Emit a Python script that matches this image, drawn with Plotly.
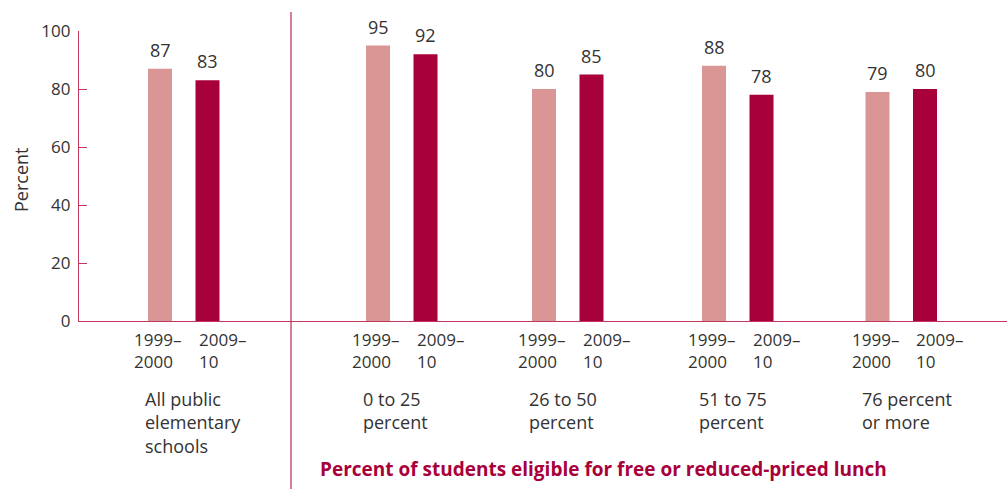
import plotly.graph_objects as go

# ---- data ----
groups = ["All public<br>elementary<br>schools", "0 to 25<br>percent", "26 to 50<br>percent",
          "51 to 75<br>percent", "76 percent<br>or more"]
series_names = ["1999–2000", "2009–10"]
series_ticklabels = ["1999–<br>2000", "2009–<br>10"]
values_1999 = [87, 95, 80, 88, 79]
values_2009 = [83, 92, 85, 78, 80]
y_ticks = [0, 20, 40, 60, 80, 100]
x_title = "Percent of students eligible for free or reduced-priced lunch"
y_title = "Percent"

# ---- layout constants ----
W, H = 1007, 489
ML, MR, MT, MB = 79, 0, 31, 168
PW, PH = W - ML - MR, H - MT - MB
group_centers = [104.5, 322.5, 488.5, 658.5, 822.0]   # x-axis units (pixels from axis)
bar_w = 24
offsets = [-35.5, 12.0]
light = "#D99694"
dark = "#A8003A"
axis_col = "#C2375E"
text_col = "#333333"
title_col = "#A8003A"
FONT = "Open Sans"


def py(pixel_y):
    return (H - MB - pixel_y) / PH


def pxx(pixel_x):
    return (pixel_x - ML) / PW


fig = go.Figure()
for vals, col, off, name in zip([values_1999, values_2009], [light, dark], offsets, series_names):
    fig.add_trace(go.Bar(
        x=group_centers, y=vals, name=name, marker_color=col, marker_line_width=0,
        width=bar_w, offset=off, showlegend=False, hoverinfo="y",
    ))

annotations = []
# value labels
for vals, off in zip([values_1999, values_2009], offsets):
    for gc, v in zip(group_centers, vals):
        annotations.append(dict(x=gc + off + bar_w / 2, y=v, xref="x", yref="y",
                                text=str(v), showarrow=False, yanchor="bottom", yshift=5,
                                font=dict(family=FONT, size=18, color=text_col)))
# series tick labels under each bar
label_shift = [-16, 1]
for off, lab, sh in zip(offsets, series_ticklabels, label_shift):
    for gc in group_centers:
        annotations.append(dict(x=gc + off, y=py(326), xref="x", yref="paper",
                                text=lab, showarrow=False, xanchor="left", yanchor="top",
                                align="left", xshift=sh,
                                font=dict(family=FONT, size=17, color=text_col)))
# group labels
for gc, g in zip(group_centers, groups):
    annotations.append(dict(x=gc - 41, y=py(385), xref="x", yref="paper",
                            text=g, showarrow=False, xanchor="left", yanchor="top",
                            align="left",
                            font=dict(family=FONT, size=18, color=text_col)))
# x title
annotations.append(dict(x=pxx(318), y=py(469), xref="paper", yref="paper",
                        text="<b>" + x_title + "</b>", showarrow=False,
                        xanchor="left", yanchor="middle",
                        font=dict(family=FONT, size=19, color=title_col)))
# y title
annotations.append(dict(x=pxx(21), y=py(180), xref="paper", yref="paper",
                        text=y_title, showarrow=False, textangle=-90,
                        xanchor="center", yanchor="middle",
                        font=dict(family=FONT, size=18, color=text_col)))

shapes = [dict(type="line", xref="paper", yref="paper",
               x0=pxx(291), x1=pxx(291), y0=py(489), y1=py(12),
               line=dict(color=axis_col, width=1.3))]

fig.update_layout(
    width=W, height=H, margin=dict(l=ML, r=MR, t=MT, b=MB),
    plot_bgcolor="white", paper_bgcolor="white",
    annotations=annotations, shapes=shapes, showlegend=False,
    xaxis=dict(range=[0, PW], showticklabels=False, ticks="", showgrid=False,
               zeroline=False, showline=True, linecolor=axis_col, linewidth=1.3, fixedrange=True),
    yaxis=dict(range=[0, 100], tickvals=y_ticks, ticks="inside", ticklen=8,
               tickcolor=axis_col, tickwidth=1.3, showgrid=False, zeroline=False,
               showline=True, linecolor=axis_col, linewidth=1.3, ticklabelstandoff=4,
               tickfont=dict(family=FONT, size=17, color=text_col), fixedrange=True),
)

fig.write_html("out.html", config={"displayModeBar": False},
               post_script="document.body.style.margin='0px';document.body.style.overflow='hidden';")
